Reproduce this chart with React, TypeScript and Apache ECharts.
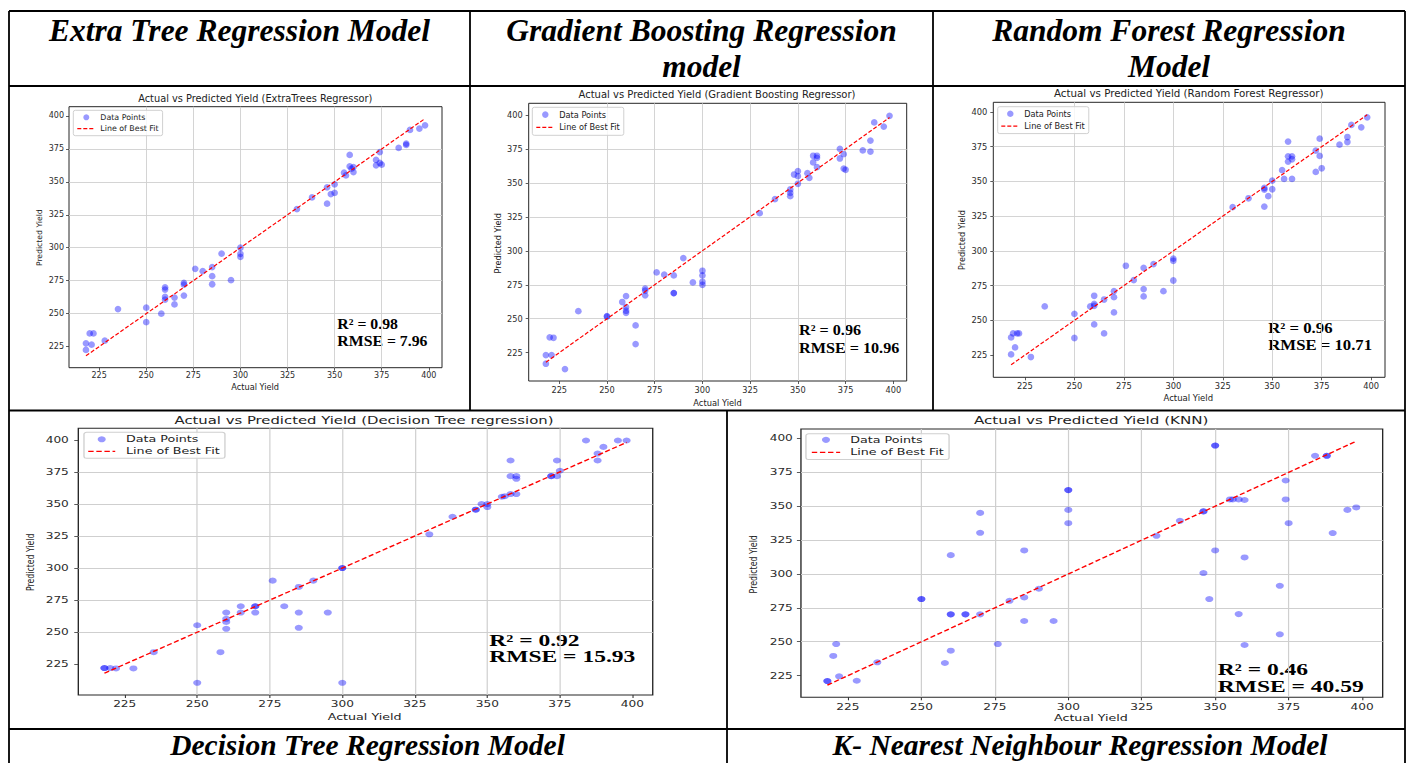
import React, { useEffect, useRef } from "react";
import * as echarts from "echarts";

// ---------------- data ----------------
const X_RANGE = [209, 407];
const TICK_VALUES = [225, 250, 275, 300, 325, 350, 375, 400];
const BEST_FIT = [218, 398];

const etActual = [218, 218, 220, 221, 222, 228, 235, 250, 250, 258, 260, 260, 260, 260, 265, 265, 270, 270, 270, 276, 280, 285, 285, 285, 290, 295, 300, 300, 300, 330, 338, 346, 346, 348, 350, 350, 355, 356, 358, 358, 359, 360, 360, 372, 372, 374, 374, 375, 384, 388, 388, 390, 395, 398];
const etPred = [227.5, 222.5, 235, 226.5, 235, 229.5, 253.5, 254.5, 243.5, 250, 270, 268.3, 262.7, 260.7, 262.2, 257, 273.4, 272, 263.7, 284, 282.2, 285.3, 278.4, 272.3, 295.6, 275.4, 300, 295.4, 293.1, 329.3, 338.2, 345.8, 333.4, 340.7, 348.1, 341.7, 356.9, 354.9, 370.4, 361.8, 360, 357.4, 361.2, 366.6, 362.5, 372.6, 364.3, 363, 375.7, 379, 378, 389.4, 390.4, 392.9];

const gbActual = [218, 218, 220, 221, 222, 228, 235, 250, 250, 258, 260, 260, 260, 260, 265, 265, 270, 270, 270, 276, 280, 285, 285, 285, 290, 295, 300, 300, 300, 300, 330, 338, 346, 346, 346, 348, 350, 350, 350, 355, 356, 358, 358, 360, 360, 360, 372, 372, 374, 374, 375, 384, 388, 388, 390, 395, 398];
const gbPred = [223.3, 216.9, 236.3, 223.3, 236, 213, 255.6, 252, 251.5, 262.3, 266.7, 258.6, 255.9, 254.4, 245.1, 231.4, 272.1, 270.6, 267.2, 284.1, 282.4, 281.9, 268.9, 268.9, 294.6, 276.7, 285.3, 281.9, 277.2, 275, 327.7, 338, 345.1, 342.6, 340.2, 356.1, 358.6, 354.9, 349.3, 357.1, 353.7, 369.9, 365, 369.9, 368.4, 361.5, 375, 367.9, 371.1, 360.5, 359.6, 373.8, 381.1, 373, 394.4, 391.4, 399.3];

const rfActual = [218, 218, 219, 220, 221, 222, 228, 235, 250, 250, 258, 260, 260, 260, 260, 265, 265, 270, 270, 270, 276, 280, 285, 285, 285, 290, 295, 300, 300, 300, 330, 338, 346, 346, 346, 348, 350, 350, 355, 356, 358, 358, 358, 360, 360, 360, 372, 372, 374, 374, 375, 384, 388, 388, 390, 395, 398];
const rfPred = [237.7, 225.5, 240.6, 230.5, 240.6, 240.6, 223.6, 260, 254.7, 237.3, 260, 267.7, 261.9, 260.5, 247.1, 265, 240.6, 271, 266.7, 255.7, 289.3, 279, 287.8, 272.5, 267.2, 290.5, 271, 294.5, 292.9, 278.7, 331.5, 337.9, 345.3, 344.2, 331.9, 339.4, 350.6, 344.4, 358.1, 351.8, 378.7, 368.1, 364.3, 368.1, 366, 351.8, 372.2, 356.9, 380.8, 368.4, 359.5, 376.5, 382, 378.4, 390.7, 389, 396.2];

const dtActual = [218, 218, 220, 222, 228, 235, 250, 250, 258, 260, 260, 260, 260, 265, 265, 270, 270, 270, 276, 280, 285, 285, 285, 290, 295, 300, 300, 300, 330, 338, 346, 346, 348, 350, 350, 355, 356, 358, 358, 358, 360, 360, 360, 372, 372, 374, 374, 375, 384, 388, 388, 390, 395, 398];
const dtPred = [222, 222, 222, 221.7, 221.7, 234.4, 255.4, 210.5, 234.4, 265.3, 260.4, 258, 252.6, 270.2, 265.3, 270.2, 270.2, 265.3, 290.2, 270.2, 285.3, 265.3, 253.4, 290.2, 265.3, 300, 300, 210.5, 326.3, 340, 345.5, 345.5, 349.9, 349.9, 347.6, 355.6, 356, 357.7, 371.7, 383.9, 371.7, 369.6, 357.7, 371.7, 371.7, 371.7, 383.9, 375.9, 399.5, 389.3, 383.9, 394.5, 399.5, 399.5];

const knnActual = [218, 218, 220, 221, 222, 228, 235, 250, 250, 258, 260, 260, 260, 260, 265, 265, 270, 270, 270, 276, 280, 285, 285, 285, 290, 295, 300, 300, 300, 300, 330, 338, 346, 346, 346, 348, 350, 350, 350, 355, 356, 358, 358, 360, 360, 360, 372, 372, 374, 374, 375, 384, 388, 388, 390, 395, 398];
const knnPred = [221, 221, 239.5, 248.3, 224.5, 221.2, 234.8, 281.5, 281.5, 234.3, 313.9, 270.2, 270.2, 243.4, 270.2, 270.2, 345.1, 330.4, 270.2, 248.3, 280.2, 317.4, 282.7, 265.3, 289.1, 265.3, 361.9, 361.9, 347.3, 337.5, 328.2, 339.2, 346.2, 346.2, 300.7, 281.5, 394.8, 394.8, 317.4, 355, 355, 355, 270.4, 354.6, 312.2, 247.6, 291.3, 255.5, 369, 355, 337.5, 387.2, 387.2, 387.2, 330.2, 347.3, 349.1];

const plotTitles = [
  "Actual vs Predicted Yield (ExtraTrees Regressor)",
  "Actual vs Predicted Yield (Gradient Boosting Regressor)",
  "Actual vs Predicted Yield (Random Forest Regressor)",
  "Actual vs Predicted Yield (Decision Tree regression)",
  "Actual vs Predicted Yield (KNN)",
];
const r2Values = ["0.98", "0.96", "0.96", "0.92", "0.46"];
const rmseValues = ["7.96", "10.96", "10.71", "15.93", "40.59"];
const headerTexts = [
  "Extra Tree Regression Model",
  "Gradient Boosting Regression",
  "model",
  "Random Forest Regression",
  "Model",
  "Decision Tree Regression Model",
  "K- Nearest Neighbour Regression Model",
];
const SCATTER_NAME = "Data Points";
const LINE_NAME = "Line of Best Fit";
const X_NAME = "Actual Yield";
const Y_NAME = "Predicted Yield";

// ---------------- styles / layout ----------------
const SANS = "'DejaVu Sans', sans-serif";
const SERIF = "'Liberation Serif', 'Times New Roman', serif";

type Spec = {
  actual: number[];
  pred: number[];
  idx: number;
  yMin: number;
  yMax: number;
  grid: { left: number; top: number; width: number; height: number };
  tickFont: number;
  xMargin: number;
  yMargin: number;
  symbolSize: number;
  lineWidth: number;
  legend: { left: number; top: number; padding: number[]; itemWidth: number; itemHeight: number; itemGap: number; fontSize: number; lineHeight: number; textPad: number };
  title: { x: number; y: number; size: number };
  xName: { x: number; y: number; size: number };
  yName: { x: number; y: number; size: number };
  stats: { x: number; y1: number; y2: number; size: number; scaleX: number };
};

function valueAxis(gridIndex: number, min: number, max: number, fontSize: number, margin: number) {
  return {
    type: "value",
    gridIndex,
    min,
    max,
    minInterval: 25,
    maxInterval: 25,
    splitNumber: 8,
    axisLine: { show: false },
    axisTick: { show: true, inside: false, length: 3, lineStyle: { color: "#333", width: 0.8 }, customValues: TICK_VALUES },
    axisLabel: { show: true, fontSize, fontFamily: SANS, color: "#2b2b2b", margin, showMinLabel: false, showMaxLabel: false },
    splitLine: { show: true, showMinLine: false, showMaxLine: false, lineStyle: { color: "#cfcfcf", width: 0.9 } },
  };
}

function txt(text: string, x: number, y: number, size: number, extra: any = {}) {
  return {
    type: "text",
    x,
    y,
    silent: true,
    ...extra.el,
    style: {
      text,
      fontSize: size,
      fontFamily: SANS,
      fill: "#222",
      align: "center",
      verticalAlign: "middle",
      ...extra.style,
    },
  };
}

function buildOption(specs: Spec[], extraGraphics: any[]) {
  const grid: any[] = [];
  const xAxis: any[] = [];
  const yAxis: any[] = [];
  const series: any[] = [];
  const legend: any[] = [];
  const elements: any[] = [...extraGraphics];
  specs.forEach((p, i) => {
    grid.push({ ...p.grid, show: true, borderColor: "#262626", borderWidth: 1, backgroundColor: "rgba(0,0,0,0)", containLabel: false, outerBoundsMode: "none" });
    xAxis.push(valueAxis(i, X_RANGE[0], X_RANGE[1], p.tickFont, p.xMargin));
    yAxis.push(valueAxis(i, p.yMin, p.yMax, p.tickFont, p.yMargin));
    series.push({
      type: "scatter",
      name: SCATTER_NAME,
      xAxisIndex: i,
      yAxisIndex: i,
      symbol: "circle",
      symbolSize: p.symbolSize,
      itemStyle: { color: "rgba(0,0,255,0.5)" },
      data: p.actual.map((a, k) => [a, p.pred[k]]),
      silent: true,
    });
    series.push({
      type: "line",
      name: LINE_NAME,
      xAxisIndex: i,
      yAxisIndex: i,
      symbol: "none",
      itemStyle: { color: "rgba(0,0,0,0)" },
      lineStyle: { color: "#ff0000", width: p.lineWidth, type: [4, 2] },
      data: BEST_FIT.map((v) => [v, v]),
      silent: true,
    });
    const L = p.legend;
    legend.push({
      orient: "vertical",
      left: L.left,
      top: L.top,
      padding: L.padding,
      itemWidth: L.itemWidth,
      itemHeight: L.itemHeight,
      itemGap: L.itemGap,
      selectedMode: false,
      backgroundColor: "rgba(255,255,255,0.8)",
      borderColor: "#d0d0d0",
      borderWidth: 1,
      borderRadius: 2,
      textStyle: { fontSize: L.fontSize, fontFamily: SANS, color: "#222", lineHeight: L.lineHeight, padding: [0, 0, 0, L.textPad] },
      data: [
        SCATTER_NAME,
        { name: LINE_NAME, itemStyle: { color: "rgba(0,0,0,0)", opacity: 0, borderWidth: 0 }, lineStyle: { color: "#ff0000", width: p.lineWidth, type: [4, 2] } },
      ],
    });
    elements.push(txt(plotTitles[p.idx], p.title.x, p.title.y, p.title.size));
    elements.push(txt(X_NAME, p.xName.x, p.xName.y, p.xName.size));
    elements.push(txt(Y_NAME, p.yName.x, p.yName.y, p.yName.size, { el: { rotation: Math.PI / 2 } }));
    const statStyle = { style: { fontFamily: SERIF, fontWeight: "bold", fill: "#000", align: "left" }, el: { scaleX: p.stats.scaleX } };
    elements.push(txt("R\u00b2 = " + r2Values[p.idx], p.stats.x, p.stats.y1, p.stats.size, statStyle));
    elements.push(txt("RMSE = " + rmseValues[p.idx], p.stats.x, p.stats.y2, p.stats.size, statStyle));
  });
  return {
    animation: false,
    backgroundColor: "transparent",
    grid,
    xAxis,
    yAxis,
    series,
    legend,
    graphic: { elements },
  };
}

const mainSpecs: Spec[] = [
  {
    actual: etActual, pred: etPred, idx: 0, yMin: 209, yMax: 407,
    grid: { left: 69, top: 106.7, width: 373, height: 261 },
    tickFont: 8, xMargin: 4, yMargin: 5, symbolSize: 6.7, lineWidth: 1.2,
    legend: { left: 73.3, top: 110.3, padding: [1.5, 4, 1.5, 3.4], itemWidth: 18, itemHeight: 6, itemGap: 0.4, fontSize: 7.9, lineHeight: 11, textPad: 0 },
    title: { x: 255.3, y: 98.3, size: 9.8 },
    xName: { x: 255.2, y: 387.3, size: 8.2 },
    yName: { x: 39.3, y: 237.7, size: 7.7 },
    stats: { x: 337.3, y1: 324.3, y2: 341, size: 14, scaleX: 1.13 },
  },
  {
    actual: gbActual, pred: gbPred, idx: 1, yMin: 204.2, yMax: 408.5,
    grid: { left: 528.7, top: 103.3, width: 378, height: 277.7 },
    tickFont: 8.2, xMargin: 5, yMargin: 6, symbolSize: 6.7, lineWidth: 1.2,
    legend: { left: 532.3, top: 107.3, padding: [1.3, 4, 2, 3.4], itemWidth: 18, itemHeight: 6.5, itemGap: 0.7, fontSize: 8.2, lineHeight: 12, textPad: 0 },
    title: { x: 717, y: 94, size: 10 },
    xName: { x: 717.5, y: 403, size: 8.3 },
    yName: { x: 498, y: 243.3, size: 8.2 },
    stats: { x: 799, y1: 330, y2: 347.7, size: 14.3, scaleX: 1.13 },
  },
  {
    actual: rfActual, pred: rfPred, idx: 2, yMin: 209, yMax: 407,
    grid: { left: 993.3, top: 102.3, width: 391.7, height: 275 },
    tickFont: 8.3, xMargin: 5, yMargin: 6, symbolSize: 6.7, lineWidth: 1.2,
    legend: { left: 997.7, top: 106.7, padding: [1, 4, 1.5, 3], itemWidth: 18, itemHeight: 6.5, itemGap: 0.4, fontSize: 8.2, lineHeight: 12, textPad: 0 },
    title: { x: 1188.7, y: 93.3, size: 10.3 },
    xName: { x: 1188.3, y: 398.3, size: 8.5 },
    yName: { x: 961.7, y: 240, size: 8.1 },
    stats: { x: 1268.3, y1: 327.7, y2: 345, size: 14.3, scaleX: 1.17 },
  },
];

const dtSpec: Spec = {
  actual: dtActual, pred: dtPred, idx: 3, yMin: 201, yMax: 409,
  grid: { left: 50.6, top: 16.3, width: 425.5, height: 266.7 },
  tickFont: 9, xMargin: 5, yMargin: 7, symbolSize: 6, lineWidth: 1.3,
  legend: { left: 54.8, top: 20.3, padding: [1, 4, 1, 2.5], itemWidth: 20, itemHeight: 6, itemGap: 0, fontSize: 9.4, lineHeight: 12, textPad: 3 },
  title: { x: 262.2, y: 8, size: 11 },
  xName: { x: 262.7, y: 304.7, size: 9.4 },
  yName: { x: 14.8, y: 150.3, size: 7.8 },
  stats: { x: 355, y1: 228, y2: 244.7, size: 16.6, scaleX: 1.05 },
};

const knnSpec: Spec = {
  actual: knnActual, pred: knnPred, idx: 4, yMin: 209, yMax: 407,
  grid: { left: 53.3, top: 17, width: 430.9, height: 268.3 },
  tickFont: 9, xMargin: 5, yMargin: 6, symbolSize: 6, lineWidth: 1.3,
  legend: { left: 57, top: 21.7, padding: [0, 4, 1, 3.7], itemWidth: 21, itemHeight: 6, itemGap: 0.3, fontSize: 9.4, lineHeight: 12.3, textPad: 2.4 },
  title: { x: 268.3, y: 8.7, size: 11.2 },
  xName: { x: 268.1, y: 305.7, size: 9.4 },
  yName: { x: 17.5, y: 152.3, size: 7.9 },
  stats: { x: 362, y1: 257.3, y2: 274, size: 16.6, scaleX: 1.05 },
};

// table frame and headers
const tableLines: number[][] = [
  [9, 11, 1405, 11],
  [9, 86, 1405, 86],
  [9, 410.5, 1405, 410.5],
  [9, 729, 1405, 729],
  [9, 11, 9, 763],
  [1405, 11, 1405, 763],
  [470, 11, 470, 410.5],
  [933, 11, 933, 410.5],
  [727, 410.5, 727, 763],
];
const headerPos: number[][] = [
  [239.5, 30, 31.5],
  [701.5, 30, 31.5],
  [701.5, 66, 31.5],
  [1169, 30, 31.5],
  [1169, 66, 31.5],
  [367.5, 745, 29.5],
  [1080, 745, 29.5],
];

const tableGraphics: any[] = [
  ...tableLines.map((l) => ({
    type: "line",
    silent: true,
    shape: { x1: l[0], y1: l[1], x2: l[2], y2: l[3] },
    style: { stroke: "#000", lineWidth: 1.8 },
  })),
  ...headerTexts.map((t, i) =>
    txt(t, headerPos[i][0], headerPos[i][1], headerPos[i][2], {
      style: { fontFamily: SERIF, fontWeight: "bold", fontStyle: "italic", fill: "#000" },
    })
  ),
];

const mainOption = buildOption(mainSpecs, tableGraphics);
const dtOption = buildOption([dtSpec], []);
const knnOption = buildOption([knnSpec], []);

function ChartBox({ option, style }: { option: any; style: React.CSSProperties }) {
  const ref = useRef<HTMLDivElement>(null);
  useEffect(() => {
    if (!ref.current) return;
    const chart = echarts.init(ref.current, null, { renderer: "svg" });
    chart.setOption(option);
    return () => chart.dispose();
  }, [option]);
  return <div ref={ref} style={style} />;
}

export default function App() {
  return (
    <div style={{ position: "absolute", left: 0, top: 0, width: 1410, height: 763, background: "#fff", overflow: "hidden" }}>
      <ChartBox option={mainOption} style={{ position: "absolute", left: 0, top: 0, width: 1410, height: 763 }} />
      <ChartBox
        option={dtOption}
        style={{ position: "absolute", left: 10, top: 412, width: 530, height: 316, transform: "scaleX(1.35)", transformOrigin: "0 0" }}
      />
      <ChartBox
        option={knnOption}
        style={{ position: "absolute", left: 729, top: 412, width: 500, height: 316, transform: "scaleX(1.35)", transformOrigin: "0 0" }}
      />
    </div>
  );
}
